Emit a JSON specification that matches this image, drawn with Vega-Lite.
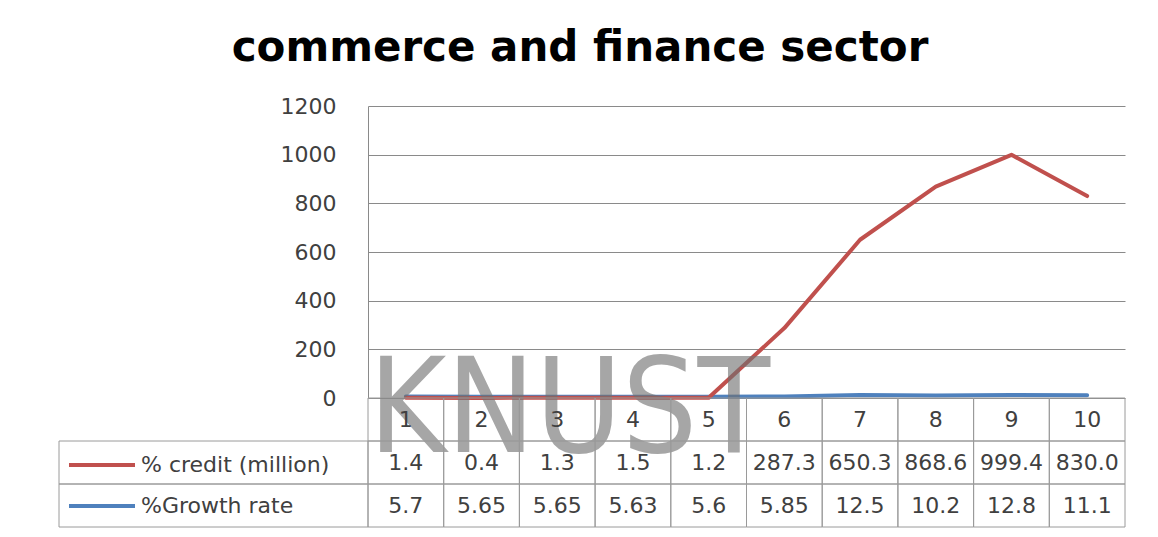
{
  "$schema": "https://vega.github.io/schema/vega-lite/v6.json",
  "padding": {"left": 58, "top": 27, "right": 0, "bottom": 0},
  "title": {"text": "commerce and finance sector", "font": "DejaVu Sans", "fontSize": 42, "fontWeight": "bold", "color": "#000000", "anchor": "middle", "offset": 25, "dx": -12},
  "datasets": {
    "long": [
      {"x": "1", "series": "% credit (million)", "value": 1.4},
      {"x": "2", "series": "% credit (million)", "value": 0.4},
      {"x": "3", "series": "% credit (million)", "value": 1.3},
      {"x": "4", "series": "% credit (million)", "value": 1.5},
      {"x": "5", "series": "% credit (million)", "value": 1.2},
      {"x": "6", "series": "% credit (million)", "value": 287.3},
      {"x": "7", "series": "% credit (million)", "value": 650.3},
      {"x": "8", "series": "% credit (million)", "value": 868.6},
      {"x": "9", "series": "% credit (million)", "value": 999.4},
      {"x": "10", "series": "% credit (million)", "value": 830.0},
      {"x": "1", "series": "%Growth rate", "value": 5.7},
      {"x": "2", "series": "%Growth rate", "value": 5.65},
      {"x": "3", "series": "%Growth rate", "value": 5.65},
      {"x": "4", "series": "%Growth rate", "value": 5.63},
      {"x": "5", "series": "%Growth rate", "value": 5.6},
      {"x": "6", "series": "%Growth rate", "value": 5.85},
      {"x": "7", "series": "%Growth rate", "value": 12.5},
      {"x": "8", "series": "%Growth rate", "value": 10.2},
      {"x": "9", "series": "%Growth rate", "value": 12.8},
      {"x": "10", "series": "%Growth rate", "value": 11.1}
    ],
    "watermark": [{"mark": "KNUST"}]
  },
  "columns": 2,
  "spacing": 0,
  "bounds": "flush",
  "resolve": {"scale": {"color": "independent"}, "legend": {"color": "independent"}},
  "concat": [
    {
      "width": 309,
      "height": 292,
      "data": {"values": []},
      "mark": "point",
      "encoding": {}
    },
    {
      "width": 757,
      "height": 292,
      "layer": [
        {
          "data": {"name": "long"},
          "transform": [{"filter": "datum.series == '%Growth rate'"}],
          "mark": {"type": "line", "color": "#4f81bd", "strokeWidth": 4, "strokeCap": "round", "strokeJoin": "round"},
          "encoding": {
            "x": {"field": "x", "type": "nominal", "axis": null, "scale": {"type": "point", "domain": ["1","2","3","4","5","6","7","8","9","10"], "padding": 0.5}},
            "y": {"field": "value", "type": "quantitative", "scale": {"domain": [0, 1200], "nice": false},
                  "axis": {"values": [0, 200, 400, 600, 800, 1000, 1200], "format": "d", "grid": true, "gridColor": "#8a8a8a", "gridWidth": 1, "domainColor": "#8a8a8a", "domainWidth": 1, "ticks": false, "tickSize": 0, "labelPadding": 32, "labelFontSize": 22, "labelFont": "DejaVu Sans", "labelColor": "#404040", "title": null}}
          }
        },
        {
          "data": {"name": "long"},
          "transform": [{"filter": "datum.series == '% credit (million)'"}],
          "mark": {"type": "line", "color": "#c0504d", "strokeWidth": 4, "strokeCap": "round", "strokeJoin": "round"},
          "encoding": {
            "x": {"field": "x", "type": "nominal"},
            "y": {"field": "value", "type": "quantitative"}
          }
        },
        {
          "data": {"name": "watermark"},
          "mark": {"type": "text", "font": "DejaVu Sans Condensed, Liberation Sans, sans-serif", "fontSize": 132, "color": "#707070", "opacity": 0.62, "align": "center", "baseline": "alphabetic", "dx": 12, "dy": 54},
          "encoding": {
            "x": {"datum": "3", "type": "nominal"},
            "y": {"datum": 0, "type": "quantitative"},
            "text": {"field": "mark"}
          }
        }
      ]
    },
    {
      "width": 309,
      "height": 129,
      "data": {"name": "long"},
      "layer": [
        {
          "transform": [{"filter": "datum.x == '1'"}],
          "mark": {"type": "rect", "fill": "white", "fillOpacity": 0, "stroke": "#9a9a9a", "strokeWidth": 1},
          "encoding": {
            "x": {"datum": "legend", "type": "nominal", "axis": null, "scale": {"type": "band", "paddingInner": 0, "paddingOuter": 0}},
            "y": {"field": "series", "type": "nominal", "axis": null,
                  "scale": {"type": "band", "domain": ["hdr", "% credit (million)", "%Growth rate"], "paddingInner": 0, "paddingOuter": 0}}
          }
        },
        {
          "transform": [{"filter": "datum.x == 'none'"}],
          "mark": {"type": "rule", "strokeWidth": 4},
          "encoding": {
            "y": {"field": "series", "type": "nominal", "axis": null},
            "color": {"field": "series", "type": "nominal",
                      "scale": {"domain": ["% credit (million)", "%Growth rate"], "range": ["#c0504d", "#4f81bd"]},
                      "legend": {"orient": "none", "legendX": 8, "legendY": 56, "title": null, "symbolType": "stroke", "symbolSize": 4356, "symbolStrokeWidth": 4, "clipHeight": 22, "rowPadding": 19, "labelOffset": 4, "labelLimit": 400, "labelFontSize": 22, "labelFont": "DejaVu Sans", "labelColor": "#404040", "padding": 0, "direction": "vertical"}}
          }
        }
      ]
    },
    {
      "width": 757,
      "height": 129,
      "data": {"name": "long"},
      "encoding": {
        "x": {"field": "x", "type": "nominal", "axis": null, "scale": {"type": "band", "domain": ["1","2","3","4","5","6","7","8","9","10"], "paddingInner": 0, "paddingOuter": 0}}
      },
      "layer": [
        {
          "mark": {"type": "rect", "fill": "white", "fillOpacity": 0, "stroke": "#9a9a9a", "strokeWidth": 1},
          "encoding": {
            "y": {"field": "series", "type": "nominal", "axis": null, "scale": {"type": "band", "domain": ["hdr", "% credit (million)", "%Growth rate"], "paddingInner": 0, "paddingOuter": 0}}
          }
        },
        {
          "transform": [{"filter": "datum.series == '%Growth rate'"}],
          "mark": {"type": "rect", "fill": "white", "fillOpacity": 0, "stroke": "#9a9a9a", "strokeWidth": 1},
          "encoding": {"y": {"datum": "hdr", "type": "nominal"}}
        },
        {
          "transform": [{"filter": "datum.series == '%Growth rate'"}],
          "mark": {"type": "text", "font": "DejaVu Sans", "fontSize": 22, "color": "#404040", "baseline": "middle"},
          "encoding": {"y": {"datum": "hdr", "type": "nominal"}, "text": {"field": "x", "type": "nominal"}}
        },
        {
          "transform": [{"filter": "datum.series == '% credit (million)'"}],
          "mark": {"type": "text", "font": "DejaVu Sans", "fontSize": 22, "color": "#404040", "baseline": "middle"},
          "encoding": {"y": {"field": "series", "type": "nominal"}, "text": {"field": "value", "type": "quantitative", "format": ".1f"}}
        },
        {
          "transform": [{"filter": "datum.series == '%Growth rate'"}],
          "mark": {"type": "text", "font": "DejaVu Sans", "fontSize": 22, "color": "#404040", "baseline": "middle"},
          "encoding": {"y": {"field": "series", "type": "nominal"}, "text": {"field": "value", "type": "nominal"}}
        }
      ]
    }
  ],
  "config": {"view": {"stroke": null}, "font": "DejaVu Sans"}
}
